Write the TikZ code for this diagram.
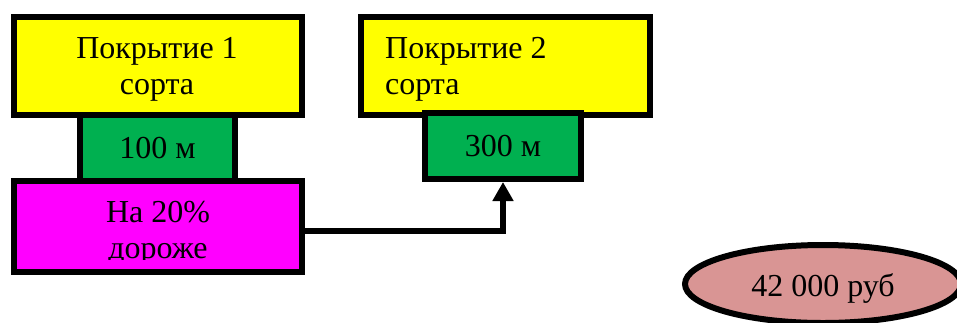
\documentclass[tikz,border=0pt]{standalone}
\usepackage{fontspec}
\setmainfont{Liberation Serif}
\usetikzlibrary{arrows.meta,shapes.geometric}
\definecolor{cyel}{HTML}{FFFF00}
\definecolor{cgrn}{HTML}{00B050}
\definecolor{cmag}{HTML}{FF00FF}
\definecolor{cpink}{HTML}{D99594}
\tikzset{
  box/.style={draw=black, line width=6pt, rectangle, inner sep=0pt, font=\fontsize{32}{36}\selectfont},
  lbl/.style={inner sep=0pt, font=\fontsize{32}{36}\selectfont},
  conn/.style={draw=black, line width=6pt, -{Triangle[width=20pt,length=19pt]}}
}
\begin{document}
\begin{tikzpicture}[x=1pt,y=-1pt]
\useasboundingbox (0,0) rectangle (957,322);
\clip (0,0) rectangle (957,322);
% left column
\node[box, fill=cgrn, minimum width=155pt, minimum height=66pt] (g1) at (157.5,148) {100 м};
\node[box, fill=cyel, minimum width=288pt, minimum height=98pt] (y1) at (158,66) {};
\node[lbl, align=center] (y1t) at (157,69) {Покрытие 1\\сорта};
\node[box, fill=cmag, minimum width=288pt, minimum height=91pt] (m) at (158,226.5) {};
\begin{scope}
\clip (17,184) rectangle (299,259.5);
\node[lbl, align=center] (mt) at (158,233) {На 20\%\\дороже};
\end{scope}
% right column
\node[box, fill=cyel, minimum width=289pt, minimum height=98pt] (y2) at (505.5,66) {};
\node[lbl, align=left, anchor=west] (y2t) at (385,69) {Покрытие 2\\сорта};
\node[box, fill=cgrn, minimum width=156pt, minimum height=66pt] (g2) at (503,146) {300 м};
% connector
\draw[conn] ([yshift=-4.5pt]m.east) -| (g2.south);
% ellipse
\node[ellipse, draw=black, line width=6pt, fill=cpink, minimum width=276pt, minimum height=78pt, inner sep=0pt,
  font=\fontsize{32}{36}\selectfont, text height=25pt, text depth=0pt] (e) at (823,284) {42 000 руб};
\end{tikzpicture}
\end{document}
